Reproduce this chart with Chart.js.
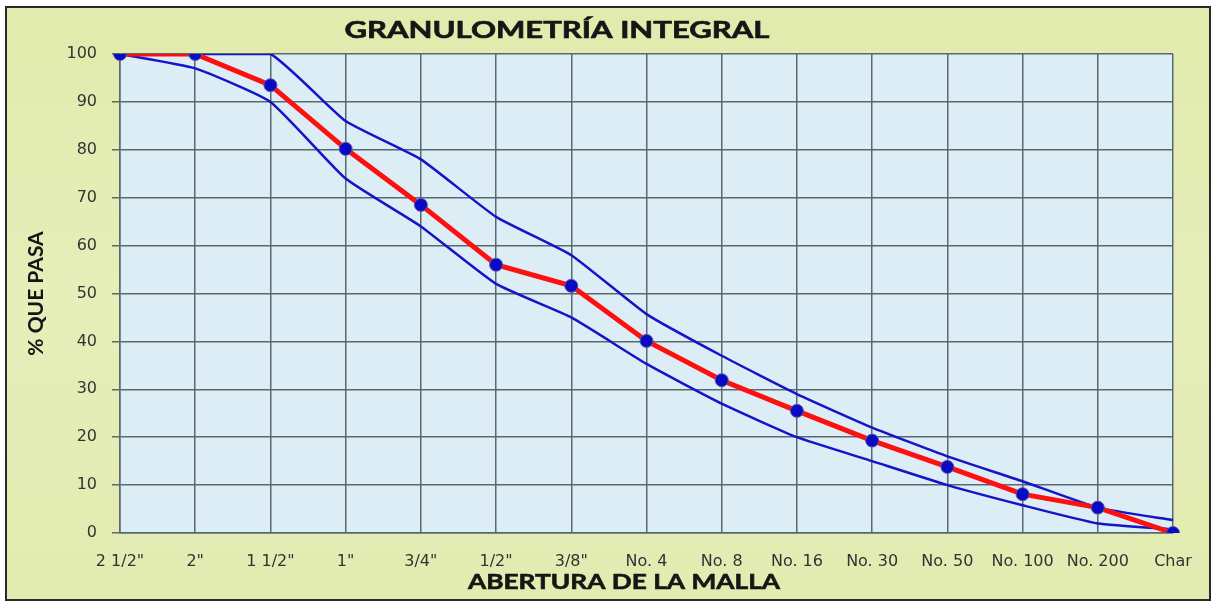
<!DOCTYPE html>
<html>
<head>
<meta charset="utf-8">
<script src="https://cdn.jsdelivr.net/npm/chart.js@4"></script>
<style>
  html, body { margin: 0; padding: 0; background: #fff; }
  #wrap { width: 1214px; height: 604px; }
</style>
</head>
<body>
<div id="wrap"><canvas id="grafico" width="1214" height="604"></canvas></div>
<script>
// Datos
const tamices = ['2 1/2"', '2"', '1 1/2"', '1"', '3/4"', '1/2"', '3/8"', 'No. 4', 'No. 8', 'No. 16', 'No. 30', 'No. 50', 'No. 100', 'No. 200', 'Char'];
const pasaMuestra = [100, 100, 93.5, 80.2, 68.5, 56, 51.6, 40.1, 31.9, 25.5, 19.3, 13.8, 8.1, 5.3, 0];
const limiteSuperior = [100, 100, 100, 86, 78, 66, 58, 45.7, 37, 29, 22, 16, 10.8, 5.3, 2.7];
const limiteInferior = [100, 97, 90, 74, 64, 52, 45, 35.3, 27, 20, 15, 10, 5.8, 2, 0.8];
const ticksY = [0, 10, 20, 30, 40, 50, 60, 70, 80, 90, 100];

const titulo = 'GRANULOMETRÍA INTEGRAL';
const tituloX = 'ABERTURA DE LA MALLA';

// texto en negrita estirado a un ancho dado (el original viene ensanchado)
function textoAncho(ctx, texto, x, y, ancho, size) {
  ctx.save();
  ctx.font = 'bold ' + size + 'px Lato';
  ctx.fillStyle = '#161616';
  ctx.strokeStyle = '#161616';
  ctx.lineWidth = 0.6;
  ctx.textAlign = 'center';
  ctx.textBaseline = 'middle';
  const w = ctx.measureText(texto).width;
  ctx.translate(x, y);
  ctx.scale(ancho / w, 1);
  ctx.fillText(texto, 0, 0);
  ctx.strokeText(texto, 0, 0);
  ctx.restore();
}

// Fondo del marco, área de trazado y títulos
const fondo = {
  id: 'fondo',
  beforeDraw(chart) {
    const { ctx, chartArea: a } = chart;
    ctx.save();
    ctx.fillStyle = '#ffffff';
    ctx.fillRect(0, 0, chart.width, chart.height);
    const g = ctx.createLinearGradient(0, 7, 0, 600);
    g.addColorStop(0, '#e1ebac');
    g.addColorStop(0.5, '#e6eeba');
    g.addColorStop(1, '#e2ebb0');
    ctx.fillStyle = g;
    ctx.fillRect(6, 7, 1204, 593);
    ctx.strokeStyle = '#2a2a2a';
    ctx.lineWidth = 2;
    ctx.strokeRect(6, 7, 1204, 593);
    ctx.fillStyle = '#dcedf5';
    ctx.fillRect(a.left, a.top, a.right - a.left, a.bottom - a.top);
    ctx.restore();
  },
  afterDraw(chart) {
    const { ctx } = chart;
    textoAncho(ctx, titulo, 557, 31, 425, 22);
    textoAncho(ctx, tituloX, 624, 582, 312, 21);
  }
};

const ctx = document.getElementById('grafico').getContext('2d');
new Chart(ctx, {
  type: 'line',
  data: {
    labels: tamices,
    datasets: [
      {
        label: 'Muestra',
        data: pasaMuestra,
        borderColor: '#ff1010',
        borderWidth: 5,
        tension: 0,
        pointRadius: 6.5,
        pointHoverRadius: 6.5,
        pointBackgroundColor: '#0a0ac4',
        pointBorderColor: '#5a5aa0',
        pointBorderWidth: 1,
        order: 0
      },
      {
        label: 'Límite superior',
        data: limiteSuperior,
        borderColor: '#1414c8',
        borderWidth: 2.5,
        tension: 0.15,
        pointRadius: 0,
        order: 1
      },
      {
        label: 'Límite inferior',
        data: limiteInferior,
        borderColor: '#1414c8',
        borderWidth: 2.5,
        tension: 0.15,
        pointRadius: 0,
        order: 2
      }
    ]
  },
  options: {
    responsive: false,
    animation: false,
    layout: { padding: { top: 54, right: 41, bottom: 0, left: 0 } },
    plugins: {
      legend: { display: false },
      title: { display: false },
      tooltip: { enabled: false }
    },
    scales: {
      x: {
        offset: false,
        afterFit: s => { s.height = 71; },
        grid: { color: '#5a6870', lineWidth: 1.5, drawTicks: false },
        border: { color: '#5a6870', width: 1.5 },
        ticks: {
          autoSkip: false,
          maxRotation: 0,
          padding: 19,
          color: '#333333',
          font: { family: 'DejaVu Sans', size: 16 }
        }
      },
      y: {
        min: 0,
        max: 100,
        afterFit: s => { s.width = 120; },
        afterBuildTicks: s => { s.ticks = ticksY.map(v => ({ value: v })); },
        grid: { color: '#5a6870', lineWidth: 1.5, tickLength: 8 },
        border: { color: '#5a6870', width: 1.5 },
        ticks: {
          padding: 15,
          color: '#333333',
          font: { family: 'DejaVu Sans', size: 16 }
        },
        title: {
          display: true,
          text: '% QUE PASA',
          color: '#151515',
          padding: { top: 24, bottom: 0 },
          font: { family: 'Lato', weight: 'bold', size: 21 }
        }
      }
    }
  },
  plugins: [fondo]
});
</script>
</body>
</html>
